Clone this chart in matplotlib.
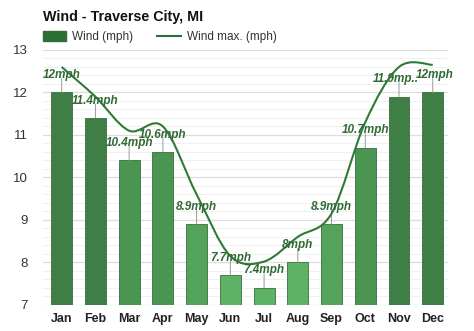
import numpy as np
import matplotlib
matplotlib.use("Agg")
import matplotlib.pyplot as plt
from matplotlib.path import Path
from matplotlib.patches import PathPatch, Patch
from matplotlib.lines import Line2D

plt.rcParams['font.family'] = ['Liberation Sans', 'DejaVu Sans']

# ---- data ----
months = ["Jan", "Feb", "Mar", "Apr", "May", "Jun",
          "Jul", "Aug", "Sep", "Oct", "Nov", "Dec"]
wind = [12, 11.4, 10.4, 10.6, 8.9, 7.7, 7.4, 8, 8.9, 10.7, 11.9, 12]
wind_max = [12.6, 11.9, 11.1, 11.2, 9.6, 8.15, 8.02, 8.6, 9.15, 11.3, 12.6, 12.65]
labels = ["12mph", "11.4mph", "10.4mph", "10.6mph", "8.9mph", "7.7mph",
          "7.4mph", "8mph", "8.9mph", "10.7mph", "11.9mp..", "12mph"]
# small horizontal nudges (points) so the Nov / Dec labels just touch
label_dx = [0, 0, 0, 0, 0, 0, 0, 0, 0, 0, -2, 1.5]


def bar_color(v):
    if v >= 11.2:
        return "#3f7f45"
    if v >= 10:
        return "#4b9552"
    if v >= 8.5:
        return "#54a35a"
    return "#5eb264"


def smooth_path(x, y, t=0.5):
    # Catmull-Rom through the points, written as cubic Bezier segments
    x = np.asarray(x, float)
    y = np.asarray(y, float)
    verts = [(x[0], y[0])]
    codes = [Path.MOVETO]
    n = len(x)
    for i in range(n - 1):
        p0 = (x[max(i - 1, 0)], y[max(i - 1, 0)])
        p1 = (x[i], y[i])
        p2 = (x[i + 1], y[i + 1])
        p3 = (x[min(i + 2, n - 1)], y[min(i + 2, n - 1)])
        c1 = (p1[0] + (p2[0] - p0[0]) * t / 3, p1[1] + (p2[1] - p0[1]) * t / 3)
        c2 = (p2[0] - (p3[0] - p1[0]) * t / 3, p2[1] - (p3[1] - p1[1]) * t / 3)
        verts += [c1, c2, p2]
        codes += [Path.CURVE4] * 3
    return Path(verts, codes)


fig = plt.figure(figsize=(4.74, 3.31), dpi=100)
ax = fig.add_axes([0.091, 0.079, 0.854, 0.77])

x = np.arange(len(months))
ax.set_ylim(7, 13)
ax.set_xlim(-0.55, 11.45)

ax.set_yticks(np.arange(7, 13.01, 1))
ax.set_yticks(np.arange(7, 13.01, 0.2), minor=True)
ax.grid(axis='y', which='major', color='#dddddd', lw=0.9, zorder=0)
ax.grid(axis='y', which='minor', color='#eeeeee', lw=0.6, zorder=0)
ax.set_axisbelow(True)

ax.bar(x, wind, width=0.62, color=[bar_color(v) for v in wind],
       edgecolor='#3a6e3e', linewidth=0.6, zorder=2)

for xi, v, lab, dx in zip(x, wind, labels, label_dx):
    ax.annotate("", xy=(xi, v), xytext=(0, 10), textcoords='offset points',
                arrowprops=dict(arrowstyle='-', color='#999999', lw=0.7,
                                shrinkA=0, shrinkB=0), zorder=3)
    ax.annotate(lab, xy=(xi, v), xytext=(dx, 12.5), textcoords='offset points',
                ha='center', va='center', fontsize=8.5, fontweight='bold',
                fontstyle='italic', color='#2f6a35', zorder=5)

ax.add_patch(PathPatch(smooth_path(x, wind_max), fill=False,
                       edgecolor='#2f7a36', lw=1.5, zorder=4))

for s in ax.spines.values():
    s.set_visible(False)
ax.tick_params(axis='both', which='both', length=0)
ax.tick_params(axis='y', labelsize=9.5, colors='#333333', pad=11)
ax.set_xticks(x)
ax.set_xticklabels(months, fontsize=9, fontweight='bold', color='#222222')
ax.tick_params(axis='x', pad=6)

fig.text(0.091, 0.95, "Wind - Traverse City, MI", fontsize=10.3,
         fontweight='bold', va='center', ha='left', color='#111111')

handles = [Patch(facecolor='#2e6f35', edgecolor='#2e6f35'),
           Line2D([0], [0], color='#2e6f35', lw=1.5)]
fig.legend(handles, ["Wind (mph)", "Wind max. (mph)"], loc='center left',
           bbox_to_anchor=(0.068, 0.888), ncol=2, frameon=False, fontsize=8.5,
           handlelength=2.0, handleheight=0.9, columnspacing=2.0,
           handletextpad=0.5, labelcolor='#333333')

fig.savefig("out.png", dpi=100)
